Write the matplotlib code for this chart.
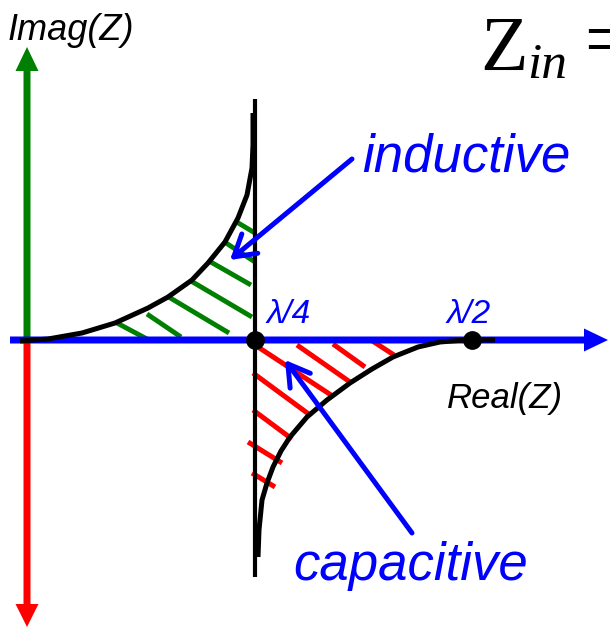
import numpy as np
import matplotlib
matplotlib.use("Agg")
import matplotlib.pyplot as plt
from matplotlib.patches import FancyArrowPatch

# diagram coordinates: origin where the two axes cross, y up (units ~ pixels)
# inductive branch (upper curve)
ind_re = [-7, 21, 55, 88, 121, 141, 165, 181, 198, 211, 220, 225, 226, 226]
ind_im = [-1, 1, 7, 17, 32, 43, 60, 77, 98, 122, 145, 172, 195, 227]

# capacitive branch (lower curve)
cap_re = [231, 232, 235, 240, 246, 254, 263, 280, 300, 323, 345, 366, 391, 413, 431, 445, 468]
cap_im = [-217, -190, -160, -143, -127, -111, -97, -77, -60, -43, -29, -17, -7, -2, -0.5, 0, 0]

# quarter-wave line
qw_re = 228
qw_im = (-237, 241)
half_re = 445

# hatch segments (re0, im0, re1, im1)
green_hatch = [(208, 119, 228, 107), (196, 99, 228, 78), (182, 79, 224, 55),
               (164, 59, 225, 23), (140, 44, 202, 7), (120, 26, 154, 3),
               (90, 17, 120, 1)]
red_hatch = [(231, -7, 304, -55), (270, -5, 323, -42), (306, -4, 338, -27),
             (344, 0, 367, -15), (226, -33, 283, -75), (226, -70, 265, -99),
             (221, -102, 255, -123), (225, -133, 248, -147)]

# axis arrows
imag_top = 293
imag_bot = -287
real_left = -17
real_right = 581

# callouts (tail, tip)
ind_arrow = ((325, 181), (203, 80))
cap_arrow = ((385, -193), (258, -20))

BLUE = "#0000ff"
GREEN = "#008000"
RED = "#ff0000"

fig = plt.figure(figsize=(6.1, 6.27), dpi=100)
ax = fig.add_axes([0, 0, 1, 1])
ax.set_xlim(-27, 583)
ax.set_ylim(-287, 340)
ax.set_aspect("equal")
ax.axis("off")

# imag axis: green up, red down
ax.arrow(0, 0, 0, imag_top, width=7, head_width=23, head_length=24,
         length_includes_head=True, color=GREEN, lw=0, zorder=2)
ax.arrow(0, 0, 0, imag_bot, width=7, head_width=23, head_length=23,
         length_includes_head=True, color=RED, lw=0, zorder=2)

# hatching
for h in green_hatch:
    ax.plot([h[0], h[2]], [h[1], h[3]], color=GREEN, lw=3.5,
            solid_capstyle="butt", zorder=3)
for h in red_hatch:
    ax.plot([h[0], h[2]], [h[1], h[3]], color=RED, lw=3.6,
            solid_capstyle="butt", zorder=3)

# real axis
ax.arrow(real_left, 0, real_right - real_left, 0, width=7, head_width=23,
         head_length=24, length_includes_head=True, color=BLUE, lw=0, zorder=4)

# curves
ax.plot([qw_re, qw_re], qw_im, color="black", lw=3.0, solid_capstyle="butt", zorder=5)
ax.plot(ind_re, ind_im, color="black", lw=3.6, solid_capstyle="butt",
        solid_joinstyle="round", zorder=5)
ax.plot(cap_re, cap_im, color="black", lw=3.6, solid_capstyle="butt",
        solid_joinstyle="round", zorder=5)

ax.plot([qw_re, half_re], [0, 0], "o", color="black", ms=12.5, zorder=6)

# callout arrows
for tail, tip in [ind_arrow, cap_arrow]:
    ax.add_patch(FancyArrowPatch(tail, tip, arrowstyle="->,head_length=0.75,head_width=0.45",
                                 mutation_scale=20, color=BLUE, lw=3.6,
                                 shrinkA=0, shrinkB=0, zorder=7))

sans = "Liberation Sans"
ax.text(-19, 300, "Imag(Z)", fontsize=26, style="italic", family=sans,
        color="black", va="baseline", ha="left")
ax.text(420, -68, "Real(Z)", fontsize=25, style="italic", family=sans,
        color="black", va="baseline", ha="left")
ax.text(240, 17, "\u03bb/4", fontsize=24, style="italic", family=sans,
        color=BLUE, va="baseline", ha="left")
ax.text(420, 17, "\u03bb/2", fontsize=24, style="italic", family=sans,
        color=BLUE, va="baseline", ha="left")
ax.text(335, 168, "inductive", fontsize=38, style="italic", family=sans,
        color=BLUE, va="baseline", ha="left")
ax.text(266, -240, "capacitive", fontsize=38, style="italic", family=sans,
        color=BLUE, va="baseline", ha="left")

serif = "Liberation Serif"
ax.text(453, 270, "Z", fontsize=56, family=serif, color="black",
        va="baseline", ha="left")
ax.text(500, 262, "in", fontsize=37, style="italic", family=serif,
        color="black", va="baseline", ha="left")
# the reference cuts the "=" off at the right edge
ax.text(557, 275, "=", fontsize=56, family=serif, color="black",
        va="baseline", ha="left")

fig.savefig("out.png", dpi=100)
